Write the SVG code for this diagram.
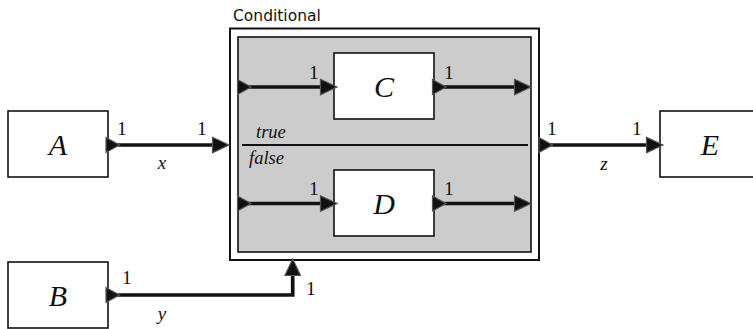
<svg xmlns="http://www.w3.org/2000/svg" width="753" height="329" viewBox="0 0 753 329">
<style>
.box{fill:#fff;stroke:#111;stroke-width:1.6}
.lbl{font-family:"Liberation Serif","Times New Roman",serif;font-style:italic;font-size:30px;text-anchor:middle;fill:#111}
.num{font-family:"Liberation Serif","Times New Roman",serif;font-size:19.5px;fill:#111}
.var{font-family:"Liberation Serif","Times New Roman",serif;font-style:italic;font-size:19px;fill:#111;text-anchor:middle}
.cond{font-family:"Liberation Serif","Times New Roman",serif;font-style:italic;font-size:18.5px;fill:#111}
.wire{fill:none;stroke:#111;stroke-width:3.7}
.head{fill:#111;stroke:#555;stroke-width:1.2;stroke-linejoin:miter}
</style>
<defs>
<path id="st" class="head" d="M0,-7.5 L13.5,0 L0,7.5 Z"/>
<path id="ah" class="head" d="M-16.5,-7.8 L0,0 L-16.5,7.8 Z"/>
</defs>
<g id="Conditional">
<text x="233" y="21" font-family="DejaVu Sans, sans-serif" font-size="15.5" fill="#111">Conditional</text>
<rect x="230" y="28.5" width="309" height="231.5" fill="#fff" stroke="#111" stroke-width="2"/>
<rect x="238" y="37" width="293" height="215" fill="#cccccc" stroke="#111" stroke-width="1.6"/>
<line x1="242" y1="145" x2="528" y2="145" stroke="#111" stroke-width="2"/>
<text class="cond" x="256" y="138">true</text>
<text class="cond" x="249" y="164">false</text>
</g>
<g id="A"><rect class="box" x="8" y="111" width="100" height="66"/><text class="lbl" x="58" y="155">A</text></g>
<g id="B"><rect class="box" x="8" y="262" width="100" height="66"/><text class="lbl" x="58" y="306">B</text></g>
<g id="C"><rect class="box" x="334" y="53" width="100" height="66"/><text class="lbl" x="384" y="97">C</text></g>
<g id="D"><rect class="box" x="334" y="170" width="100" height="66"/><text class="lbl" x="384" y="214">D</text></g>
<g id="E"><rect class="box" x="660" y="111" width="100" height="66"/><text class="lbl" x="710" y="155">E</text></g>
<g id="connectors">
<path class="wire" d="M108,145 H222"/>
<use href="#st" x="106" y="145"/><use href="#ah" x="229" y="145"/>
<path class="wire" d="M540,145 H655"/>
<use href="#st" x="539" y="145"/><use href="#ah" x="663" y="145"/>
<path class="wire" d="M240,87 H330"/>
<use href="#st" x="237.5" y="87"/><use href="#ah" x="337" y="87"/>
<path class="wire" d="M436,87 H524"/>
<use href="#st" x="432.5" y="87"/><use href="#ah" x="531" y="87"/>
<path class="wire" d="M240,203.5 H330"/>
<use href="#st" x="237.5" y="203.5"/><use href="#ah" x="337" y="203.5"/>
<path class="wire" d="M436,203.5 H524"/>
<use href="#st" x="432.5" y="203.5"/><use href="#ah" x="531" y="203.5"/>
<path class="wire" d="M108,295 H292.7 V266"/>
<use href="#st" x="106" y="295"/><use href="#ah" transform="translate(292.7,259) rotate(-90)"/>
<text class="num" x="117" y="135">1</text>
<text class="num" x="197" y="135">1</text>
<text class="var" x="162" y="169">x</text>
<text class="num" x="309" y="79">1</text>
<text class="num" x="444" y="79">1</text>
<text class="num" x="309" y="195">1</text>
<text class="num" x="444" y="195">1</text>
<text class="num" x="547" y="135">1</text>
<text class="num" x="632" y="135">1</text>
<text class="var" x="604" y="170">z</text>
<text class="num" x="122" y="284">1</text>
<text class="num" x="306" y="295">1</text>
<text class="var" x="162" y="320">y</text>
</g>
</svg>
